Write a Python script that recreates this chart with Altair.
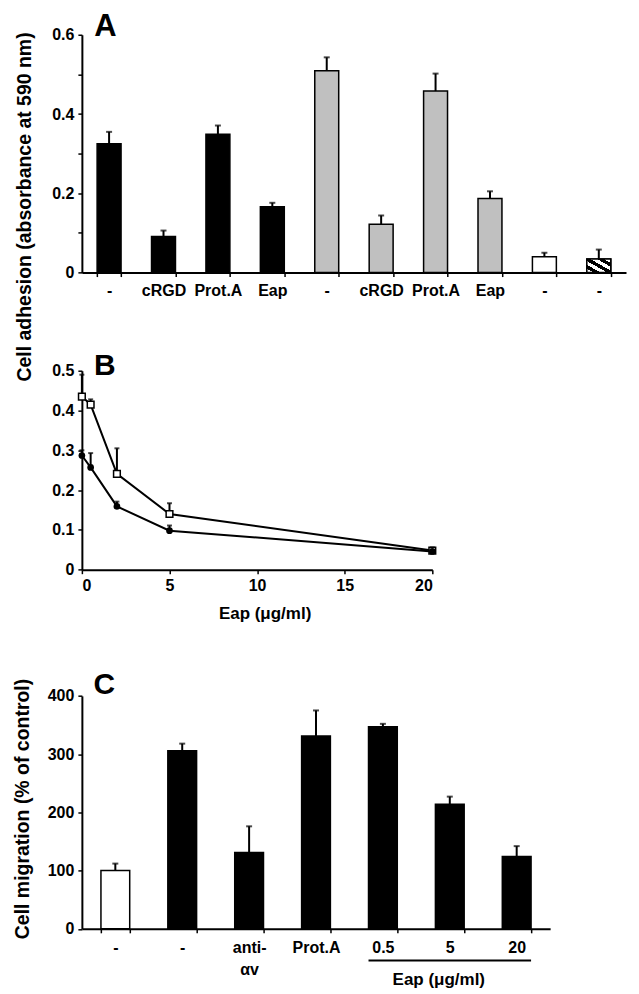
import json
import altair as alt
import pandas as pd

FONT = "Liberation Sans"

# ---------------- Panel A data ----------------
a_labels = ["-", "cRGD", "Prot.A", "Eap", "-", "cRGD", "Prot.A", "Eap", "-", "-"]
a_groups = ["black", "black", "black", "black", "grey", "grey", "grey", "grey", "white", "hatched"]
a_values = [0.325, 0.091, 0.349, 0.166, 0.509, 0.122, 0.458, 0.187, 0.040, 0.034]
a_err = [0.030, 0.015, 0.022, 0.010, 0.034, 0.022, 0.044, 0.018, 0.010, 0.024]

# ---------------- Panel B data ----------------
b_conc = [0, 0.5, 2, 5, 20]
b_open = [0.435, 0.415, 0.241, 0.140, 0.048]
b_open_err = [0.055, 0.013, 0.064, 0.027, 0.008]
b_filled = [0.287, 0.257, 0.159, 0.098, 0.046]
b_filled_err = [0.013, 0.036, 0.012, 0.013, 0.006]

# ---------------- Panel C data ----------------
c_labels = ["-", "-", "anti-\nαv", "Prot.A", "0.5", "5", "20"]
c_groups = ["white", "black", "black", "black", "black", "black", "black"]
c_values = [100, 306, 131, 331, 347, 214, 124]
c_err = [12, 12, 45, 44, 5, 13, 18]
c_bracket = [4, 6]  # categories spanned by the "Eap (μg/ml)" bracket

group_domain = ["black", "grey", "white", "hatched"]
group_range = ["#000000", "#c0c0c0", "#ffffff", "#ffffff"]

dfA = pd.DataFrame({"i": list(range(len(a_labels))), "v": a_values,
                    "top": [v + e for v, e in zip(a_values, a_err)], "g": a_groups})
rowsB = []
for x, v, e in zip(b_conc, b_open, b_open_err):
    rowsB.append({"x": x, "v": v, "top": v + e, "s": "open"})
for x, v, e in zip(b_conc, b_filled, b_filled_err):
    rowsB.append({"x": x, "v": v, "top": v + e, "s": "filled"})
dfB = pd.DataFrame(rowsB)
dfC = pd.DataFrame({"i": list(range(len(c_labels))), "v": c_values,
                    "top": [v + e for v, e in zip(c_values, c_err)], "g": c_groups})

one = pd.DataFrame({"k": [0]})

def arr_expr(labels):
    return json.dumps(labels, ensure_ascii=False)

lab_font = dict(labelFont=FONT, labelFontSize=16, labelFontWeight="bold", labelColor="black")
title_font = dict(titleFont=FONT, titleFontSize=17, titleFontWeight="bold", titleColor="black")
vtitle_font = dict(titleFont=FONT, titleFontSize=19.5, titleFontWeight="bold", titleColor="black")
line_style = dict(domainColor="black", domainWidth=2, tickColor="black", tickWidth=1.5)

stripes = []
n = 7
for k in range(n):
    c = "#000000" if k % 2 == 1 else "#ffffff"
    stripes.append(alt.GradientStop(color=c, offset=k / n))
    stripes.append(alt.GradientStop(color=c, offset=(k + 1) / n))
hatch = alt.LinearGradient(gradient="linear", stops=stripes, x1=0, y1=1, x2=1, y2=0)

# ---------------- Panel A ----------------
WA, HA = 545, 238.2
A_LAB = arr_expr(a_labels)
xA = alt.X("i:O", scale=alt.Scale(paddingInner=0.56, paddingOuter=0.28),
           axis=alt.Axis(title=None, labelAngle=0, tickBand="extent", tickSize=4,
                         labelPadding=6,
                         labelExpr=f"isValid({A_LAB}[datum.value]) ? {A_LAB}[datum.value] : ''",
                         **lab_font, **line_style))
axisYA = alt.Axis(title="Cell adhesion (absorbance at 590 nm)",
                  values=[0, 0.1, 0.2, 0.3, 0.4, 0.5, 0.6], tickSize=4, labelPadding=4,
                  labelExpr="round(datum.value*10)%2==1 ? '' : format(datum.value,'~g')",
                  titleX=-57, titleY=172, titleAngle=-90, titleAlign="center",
                  titleBaseline="middle", **lab_font, **vtitle_font, **line_style)
scYA = alt.Scale(domain=[0, 0.6])
barsA = alt.Chart(dfA).mark_bar(stroke="black", strokeWidth=1.5).encode(
    x=xA, y=alt.Y("v:Q", scale=scYA, axis=axisYA),
    fill=alt.Fill("g:N", scale=alt.Scale(domain=group_domain, range=group_range), legend=None))
hatchA = alt.Chart(dfA).transform_filter("datum.g == 'hatched'").mark_bar(
    fill=hatch, stroke="black", strokeWidth=1.5).encode(
    x=xA, y=alt.Y("v:Q", scale=scYA, axis=axisYA))
errA = alt.Chart(dfA).mark_rule(color="black", strokeWidth=2).encode(
    x=xA, y=alt.Y("v:Q", scale=scYA, axis=axisYA), y2="top:Q")
capA = alt.Chart(dfA).mark_tick(color="black", size=6, thickness=2, orient="horizontal").encode(
    x=xA, y=alt.Y("top:Q", scale=scYA, axis=axisYA))
letA = alt.Chart(one).mark_text(text="A", font=FONT, fontSize=31, fontWeight="bold",
                                align="center", baseline="alphabetic", color="black").encode(
    x=alt.value(23.5), y=alt.value(1))
panelA = alt.layer(barsA, hatchA, errA, capA, letA).properties(width=WA, height=HA)

# ---------------- Panel B ----------------
WB, HB = 351, 199.3
xB = alt.X("x:Q", scale=alt.Scale(domain=[0, 20], nice=False),
           axis=alt.Axis(title="Eap (μg/ml)", values=[0, 5, 10, 15, 20], tickSize=4,
                         labelPadding=4, titleX=183, titleY=44, titleBaseline="middle",
                         titleAlign="center", **lab_font, **title_font, **line_style))
axisYB = alt.Axis(title=None, values=[0, 0.1, 0.2, 0.3, 0.4, 0.5], tickSize=4, labelPadding=4,
                  labelExpr="format(datum.value,'~g')", **lab_font, **line_style)
scYB = alt.Scale(domain=[0, 0.5], nice=False)
yB = alt.Y("v:Q", scale=scYB, axis=axisYB)
linesB = alt.Chart(dfB).mark_line(color="black", strokeWidth=2).encode(x=xB, y=yB, detail="s:N")
errB = alt.Chart(dfB).mark_rule(color="black", strokeWidth=2).encode(x=xB, y=yB, y2="top:Q")
capB = alt.Chart(dfB).mark_tick(color="black", size=5, thickness=2, orient="horizontal").encode(
    x=xB, y=alt.Y("top:Q", scale=scYB, axis=axisYB))
sqB = alt.Chart(dfB).transform_filter("datum.s == 'open'").mark_point(
    shape="square", filled=True, fill="white", stroke="black", strokeWidth=1.5, size=45, opacity=1
).encode(x=xB, y=yB)
ciB = alt.Chart(dfB).transform_filter("datum.s == 'filled'").mark_point(
    shape="circle", filled=True, fill="black", size=45, opacity=1).encode(x=xB, y=yB)
letB = alt.Chart(one).mark_text(text="B", font=FONT, fontSize=30, fontWeight="bold",
                                align="center", baseline="alphabetic", color="black").encode(
    x=alt.value(23), y=alt.value(4))
panelB = alt.layer(linesB, errB, capB, sqB, ciB, letB).properties(width=WB, height=HB)

# ---------------- Panel C ----------------
WC, HC = 469, 261.5
C_LAB = arr_expr(c_labels)
scXC = alt.Scale(paddingInner=0.57, paddingOuter=0.285)
axisXC = alt.Axis(title="Eap (μg/ml)", labelAngle=0, tickBand="extent", tickSize=4,
                  labelPadding=7, labelLineHeight=22,
                  labelExpr=f"isValid({C_LAB}[datum.value]) ? split({C_LAB}[datum.value], '\\n') : ''",
                  titleX=357, titleY=51, titleBaseline="middle", titleAlign="center",
                  **lab_font, **title_font, **line_style)
xC = alt.X("i:O", scale=scXC, axis=axisXC)
axisYC = alt.Axis(title="Cell migration (% of control)", values=[0, 100, 200, 300, 400],
                  tickSize=4, labelPadding=4, titleX=-59, titleY=141, titleAngle=-90,
                  titleAlign="center", titleBaseline="middle",
                  **lab_font, **vtitle_font, **line_style)
scYC = alt.Scale(domain=[0, 400], range=[HC, 28.2], nice=False)
yC = alt.Y("v:Q", scale=scYC, axis=axisYC)
barsC = alt.Chart(dfC).mark_bar(stroke="black", strokeWidth=1.5).encode(
    x=xC, y=yC,
    fill=alt.Fill("g:N", scale=alt.Scale(domain=group_domain, range=group_range), legend=None))
errC = alt.Chart(dfC).mark_rule(color="black", strokeWidth=2).encode(x=xC, y=yC, y2="top:Q")
capC = alt.Chart(dfC).mark_tick(color="black", size=6, thickness=2, orient="horizontal").encode(
    x=xC, y=alt.Y("top:Q", scale=scYC, axis=axisYC))
underline = pd.DataFrame({"i": [c_bracket[0]], "e": [c_bracket[1]]})
ulC = alt.Chart(underline).mark_rule(color="black", strokeWidth=2).encode(
    x=alt.X("i:O", bandPosition=0, scale=scXC, axis=axisXC),
    x2=alt.X2("e", bandPosition=1),
    y=alt.value(HC + 31.7))
letC = alt.Chart(one).mark_text(text="C", font=FONT, fontSize=30, fontWeight="bold",
                                align="center", baseline="alphabetic", color="black").encode(
    x=alt.value(22.5), y=alt.value(26))
panelC = alt.layer(barsC, errC, capC, ulC, letC).properties(width=WC, height=HC)

chart = alt.vconcat(panelA, panelB, panelC, spacing=97.5, bounds="flush").properties(
    padding={"left": 5, "top": 2, "right": 5, "bottom": 5}
).configure_view(stroke=None).configure_axis(grid=False)

chart.save("out.html", embed_options={"renderer": "svg", "actions": False})
